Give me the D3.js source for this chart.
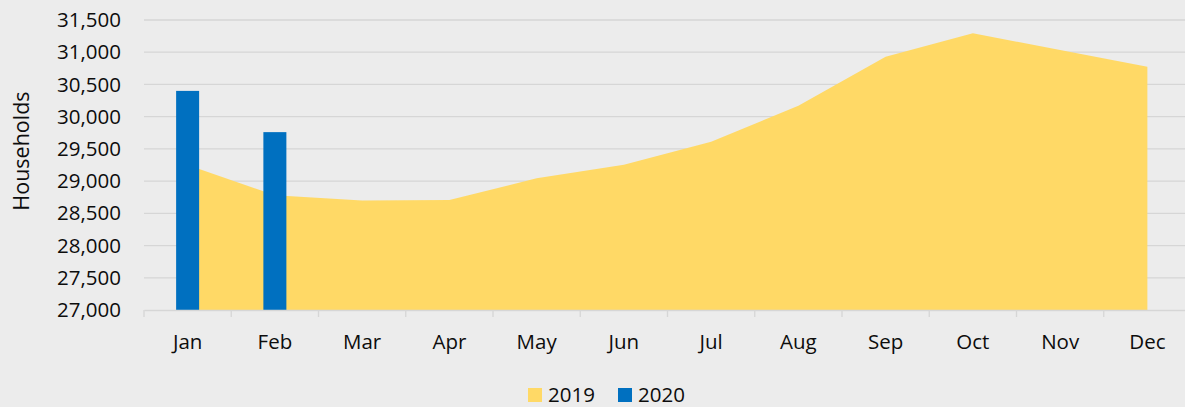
<!DOCTYPE html>
<html><head><meta charset="utf-8">
<script src="https://cdn.jsdelivr.net/npm/d3@7"></script>
<style>
html,body{margin:0;padding:0;background:#ececec;}
text{font-family:"Open Sans",sans-serif;fill:#0d0d0d;}
</style></head>
<body>
<svg id="chart" width="1185" height="407"></svg>
<script>
const months = ["Jan","Feb","Mar","Apr","May","Jun","Jul","Aug","Sep","Oct","Nov","Dec"];
const values2019 = [29250,28780,28700,28705,29045,29252,29612,30170,30930,31294,31035,30776];
const values2020 = [30400,29760];
const yTicks = [27000,27500,28000,28500,29000,29500,30000,30500,31000,31500];
const seriesNames = ["2019","2020"];
const seriesColors = ["#FFD966","#0070C0"];

(function(){
const svg = d3.select("#chart");
const W = 1185, H = 407;
const fs = 20.5;
svg.append("rect").attr("width",W).attr("height",H).attr("fill","#ececec");

const pLeft = 144, pRight = 1191, pTop = 20, pBottom = 310;
const x = d3.scaleBand().domain(months).range([pLeft,pRight]).padding(0);
const y = d3.scaleLinear().domain([27000,31500]).range([pBottom,pTop]);

// gridlines
svg.append("g").selectAll("line").data(yTicks.slice(1)).join("line")
  .attr("x1",pLeft).attr("x2",pRight)
  .attr("y1",d=>y(d)).attr("y2",d=>y(d))
  .attr("stroke","#d6d6d6").attr("stroke-width",1.3);

// area 2019
const area = d3.area()
  .x((d,i)=>x(months[i])+x.bandwidth()/2)
  .y0(y(27000)).y1(d=>y(d));
svg.append("path").datum(values2019).attr("d",area).attr("fill",seriesColors[0]);

// bars 2020
const bw = 23;
svg.append("g").selectAll("rect").data(values2020).join("rect")
  .attr("x",(d,i)=>x(months[i])+x.bandwidth()/2-bw/2)
  .attr("width",bw)
  .attr("y",d=>y(d)).attr("height",d=>y(27000)-y(d))
  .attr("fill",seriesColors[1]);

// x axis
const xAxis = d3.axisBottom(x).tickSize(0).tickPadding(24);
const gx = svg.append("g").attr("transform",`translate(0,${pBottom})`).call(xAxis);
gx.select(".domain").attr("stroke","#d6d6d6").attr("stroke-width",1.3);
gx.selectAll("text").attr("font-size",fs).attr("font-family","Open Sans").attr("fill","#0d0d0d");
// category boundary ticks
svg.append("g").selectAll("line").data(months).join("line")
  .attr("x1",d=>x(d)).attr("x2",d=>x(d))
  .attr("y1",pBottom).attr("y2",pBottom+7)
  .attr("stroke","#d6d6d6").attr("stroke-width",1.3);

// y axis
const yAxis = d3.axisLeft(y).tickValues(yTicks).tickSize(0).tickPadding(0).tickFormat(d3.format(","));
const gy = svg.append("g").attr("transform",`translate(121,0)`).call(yAxis);
gy.select(".domain").remove();
gy.selectAll("text").attr("font-size",fs).attr("font-family","Open Sans").attr("fill","#0d0d0d");

// y title
svg.append("text").attr("transform","translate(29,151) rotate(-90)")
  .attr("text-anchor","middle").attr("font-size",21.5).text("Households");

// legend
const legendX = [528,618];
const lg = svg.append("g").selectAll("g").data(seriesNames).join("g")
  .attr("transform",(d,i)=>`translate(${legendX[i]},388)`);
lg.append("rect").attr("width",14).attr("height",14).attr("fill",(d,i)=>seriesColors[i]);
lg.append("text").attr("x",20).attr("y",7).attr("dy","0.36em").attr("font-size",fs).text(d=>d);
})();
</script>
</body></html>
